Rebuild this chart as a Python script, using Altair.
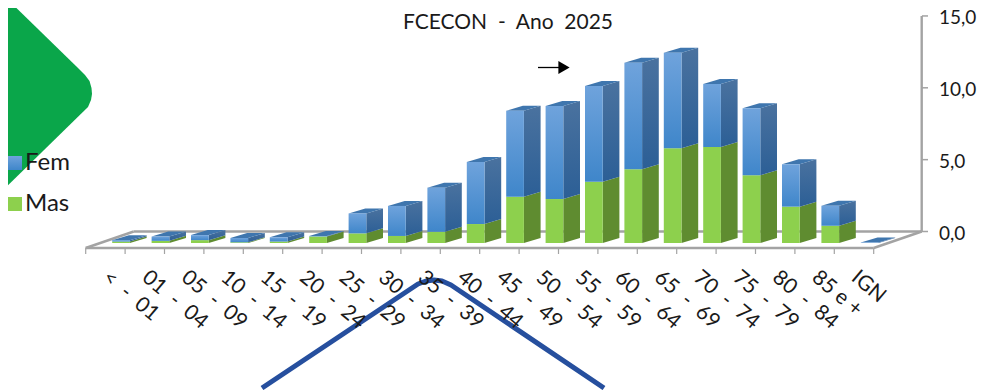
import altair as alt
import pandas as pd

# --- values ---
labels = ["<\u00a0\u00a0-\u00a0\u00a001", "01\u00a0\u00a0-\u00a0\u00a004", "05\u00a0\u00a0-\u00a0\u00a009", "10\u00a0\u00a0-\u00a0\u00a014",
          "15\u00a0\u00a0-\u00a0\u00a019", "20\u00a0\u00a0-\u00a0\u00a024", "25\u00a0\u00a0-\u00a0\u00a029", "30\u00a0\u00a0-\u00a0\u00a034",
          "35\u00a0\u00a0-\u00a0\u00a039", "40\u00a0\u00a0-\u00a0\u00a044", "45\u00a0\u00a0-\u00a0\u00a049", "50\u00a0\u00a0-\u00a0\u00a054",
          "55\u00a0\u00a0-\u00a0\u00a059", "60\u00a0\u00a0-\u00a0\u00a064", "65\u00a0\u00a0-\u00a0\u00a069", "70\u00a0\u00a0-\u00a0\u00a074",
          "75\u00a0\u00a0-\u00a0\u00a079", "80\u00a0\u00a0-\u00a0\u00a084", "85\u00a0e\u00a0+", "IGN"]
mas = [0.10, 0.15, 0.20, 0.05, 0.10, 0.45, 0.67, 0.49, 0.78, 1.32, 3.22, 3.06, 4.27, 5.13, 6.59, 6.68, 4.71, 2.53, 1.20, 0.0]
fem = [0.10, 0.30, 0.35, 0.30, 0.30, 0.03, 1.39, 2.09, 3.07, 4.32, 5.98, 6.47, 6.66, 7.42, 6.65, 4.38, 4.66, 2.95, 1.39, 0.03]
y_ticks = [0, 5, 10, 15]
y_labels = ["0,0", "5,0", "10,0", "15,0"]

FONT = "Lato"
W, H = 970, 382
PXX, PXY = 39.4, 14.37          # pixels per category / per value unit
X0, Y0 = 85.7, 243.0            # page position of category 0 and value 0


def vx(px):
    return (px - X0) / PXX


def vy(px):
    return (Y0 - px) / PXY


xs = alt.Scale(domain=[vx(8), vx(8 + W)], range=[0, W], nice=False, zero=False)
ys = alt.Scale(domain=[vy(8 + H), vy(8)], range=[H, 0], nice=False, zero=False)


def X(f):
    return alt.X(f, type="quantitative", scale=xs, axis=None)


def Y(f):
    return alt.Y(f, type="quantitative", scale=ys, axis=None, stack=None)


def grad(c1, c2):
    return alt.Gradient(gradient="linear", x1=0, y1=0, x2=0, y2=1,
                        stops=[alt.GradientStop(offset=0, color=c1), alt.GradientStop(offset=1, color=c2)])


# 3-D geometry in data units
BAR_OFF, BAR_W = 26.5 / PXX, 17.7 / PXX
DX, DY = 16.7 / PXX, 5.0 / PXY
WALL_DX, WALL_DY = 48.0 / PXX, 11.5 / PXY
FLOOR_Y = vy(248)
N = len(labels)

front, side, top = [], [], []
for i, (m, f) in enumerate(zip(mas, fem)):
    xl = i + BAR_OFF
    xr = xl + BAR_W
    if m > 0:
        front.append(dict(s="Mas", i=i, x=xl, x2=xr, y=0, y2=m))
    front.append(dict(s="Fem", i=i, x=xl, x2=xr, y=m, y2=m + f))
    for ser, a, b in (("Mas", 0, m), ("Fem", m, m + f)):
        if b > a:
            side.append(dict(s=ser, k=i, x=xr, y=a, y2=b))
            side.append(dict(s=ser, k=i, x=xr + DX, y=a + DY, y2=b + DY))
    t = m + f
    top.append(dict(k=i, y=t, x=xl, x2=xr))
    top.append(dict(k=i, y=t + DY, x=xl + DX, x2=xr + DX))

front = pd.DataFrame(front)
side = pd.DataFrame(side)
top = pd.DataFrame(top)

BLUE_F = grad("#6fa3dc", "#3f86ca")
GREEN_F = "#8dd04d"
BLUE_S = grad("#4a729f", "#2c5f96")
GREEN_S = "#5f8c30"
BLUE_T = "#3f76ae"
GRAY = "#a3a3a3"

layers = []

# decorative green corner shape
corner = pd.DataFrame(dict(
    y=[vy(v) for v in [-8, 68, 75, 81, 88, 94, 100, 107, 193]],
    x=[vx(v) for v in [0, 78, 85, 89.5, 91.5, 92, 91, 88, 0]],
    x2=[vx(0)] * 9))
layers.append(alt.Chart(corner).mark_area(orient="horizontal", color="#0aa64a").encode(
    y=Y("y"), x=X("x"), x2="x2"))

# floor and wall
BACK_Y = vy(231.5)
edges = pd.DataFrame([
    dict(k="front", x=0, y=FLOOR_Y), dict(k="front", x=N, y=FLOOR_Y),
    dict(k="back", x=WALL_DX, y=BACK_Y), dict(k="back", x=N + WALL_DX, y=BACK_Y),
    dict(k="left", x=0, y=FLOOR_Y), dict(k="left", x=WALL_DX, y=BACK_Y),
    dict(k="right", x=N, y=FLOOR_Y), dict(k="right", x=N + WALL_DX, y=BACK_Y),
    dict(k="wall", x=N + WALL_DX, y=BACK_Y), dict(k="wall", x=N + WALL_DX, y=15 + WALL_DY),
])
layers.append(alt.Chart(edges).mark_line(color=GRAY, strokeWidth=2.4).encode(x=X("x"), y=Y("y"), detail="k:N", order="x:Q"))

xt = pd.DataFrame(dict(x=list(range(N + 1))))
layers.append(alt.Chart(xt).mark_rule(color=GRAY, strokeWidth=1.2).encode(
    x=X("x"), y=alt.datum(FLOOR_Y, type="quantitative", scale=ys, axis=None), y2=alt.datum(vy(254))))

yt = pd.DataFrame(dict(v=[t + WALL_DY for t in y_ticks], lab=y_labels, lx=[vx(922)] * 4, lx2=[vx(928)] * 4, tx=[vx(939)] * 4))
layers.append(alt.Chart(yt).mark_rule(color=GRAY, strokeWidth=1.5).encode(x=X("lx"), x2="lx2", y=Y("v")))
layers.append(alt.Chart(yt).mark_text(align="left", baseline="middle", font=FONT, fontSize=19, color="#1a1a1a", dy=2.5).encode(
    x=X("tx"), y=Y("v"), text="lab:N"))

# bars: side faces, top faces, front faces
for ser, col in (("Mas", GREEN_S), ("Fem", BLUE_S)):
    layers.append(alt.Chart(side[side.s == ser]).mark_area(color=col).encode(x=X("x"), y=Y("y"), y2="y2", detail="k:N"))
layers.append(alt.Chart(top).mark_area(orient="horizontal", color=BLUE_T).encode(y=Y("y"), x=X("x"), x2="x2", detail="k:N"))
for ser, col in (("Mas", GREEN_F), ("Fem", BLUE_F)):
    layers.append(alt.Chart(front[front.s == ser]).mark_rect(color=col).encode(x=X("x"), x2="x2", y=Y("y"), y2="y2"))

# decorative blue line
peak = pd.DataFrame(dict(
    x=[vx(v) for v in [262, 418, 426, 434, 442, 451, 604]],
    y=[vy(v) for v in [388, 284, 281, 280, 281, 285, 388]]))
layers.append(alt.Chart(peak).mark_line(color="#264f9e", strokeWidth=5, strokeJoin="round").encode(
    x=X("x"), y=Y("y"), order="x:Q"))

# category labels
cat = pd.DataFrame(dict(x=[i + 0.5 for i in range(N)], y=[vy(275)] * N, lab=labels))
layers.append(alt.Chart(cat).mark_text(align="left", baseline="middle", angle=40, font=FONT, fontSize=21, color="#1a1a1a").encode(
    x=X("x"), y=Y("y"), text="lab:N"))

# arrow
ar = pd.DataFrame(dict(x=[vx(538)], x2=[vx(560)], y=[vy(67.5)], hx=[vx(564)]))
layers.append(alt.Chart(ar).mark_rule(color="black", strokeWidth=1.3).encode(x=X("x"), x2="x2", y=Y("y")))
layers.append(alt.Chart(ar).mark_point(shape="triangle-right", filled=True, color="black", opacity=1, size=170).encode(x=X("hx"), y=Y("y")))

# legend
leg = pd.DataFrame(dict(x=[vx(15)] * 2, tx=[vx(25)] * 2, y=[vy(163), vy(204)], lab=["Fem", "Mas"]))
layers.append(alt.Chart(leg[leg.lab == "Fem"]).mark_square(size=196, color=BLUE_F, opacity=1).encode(x=X("x"), y=Y("y")))
layers.append(alt.Chart(leg[leg.lab == "Mas"]).mark_square(size=196, color=GREEN_F, opacity=1).encode(x=X("x"), y=Y("y")))
layers.append(alt.Chart(leg).mark_text(align="left", baseline="middle", font=FONT, fontSize=24, color="#1a1a1a").encode(
    x=X("tx"), y=Y("y"), text="lab:N"))

# title
ttl = pd.DataFrame(dict(x=[vx(508)], y=[vy(29)], lab=["FCECON\u00a0\u00a0-\u00a0\u00a0Ano\u00a0\u00a02025"]))
layers.append(alt.Chart(ttl).mark_text(align="center", baseline="alphabetic", font=FONT, fontSize=21, color="#1a1a1a").encode(
    x=X("x"), y=Y("y"), text="lab:N"))

chart = alt.layer(*layers).properties(
    width=W, height=H, padding=0, autosize=alt.AutoSizeParams(type="none"),
    background="white",
).configure_view(stroke=None)

chart.save("out.html", embed_options={"renderer": "svg", "actions": False})
